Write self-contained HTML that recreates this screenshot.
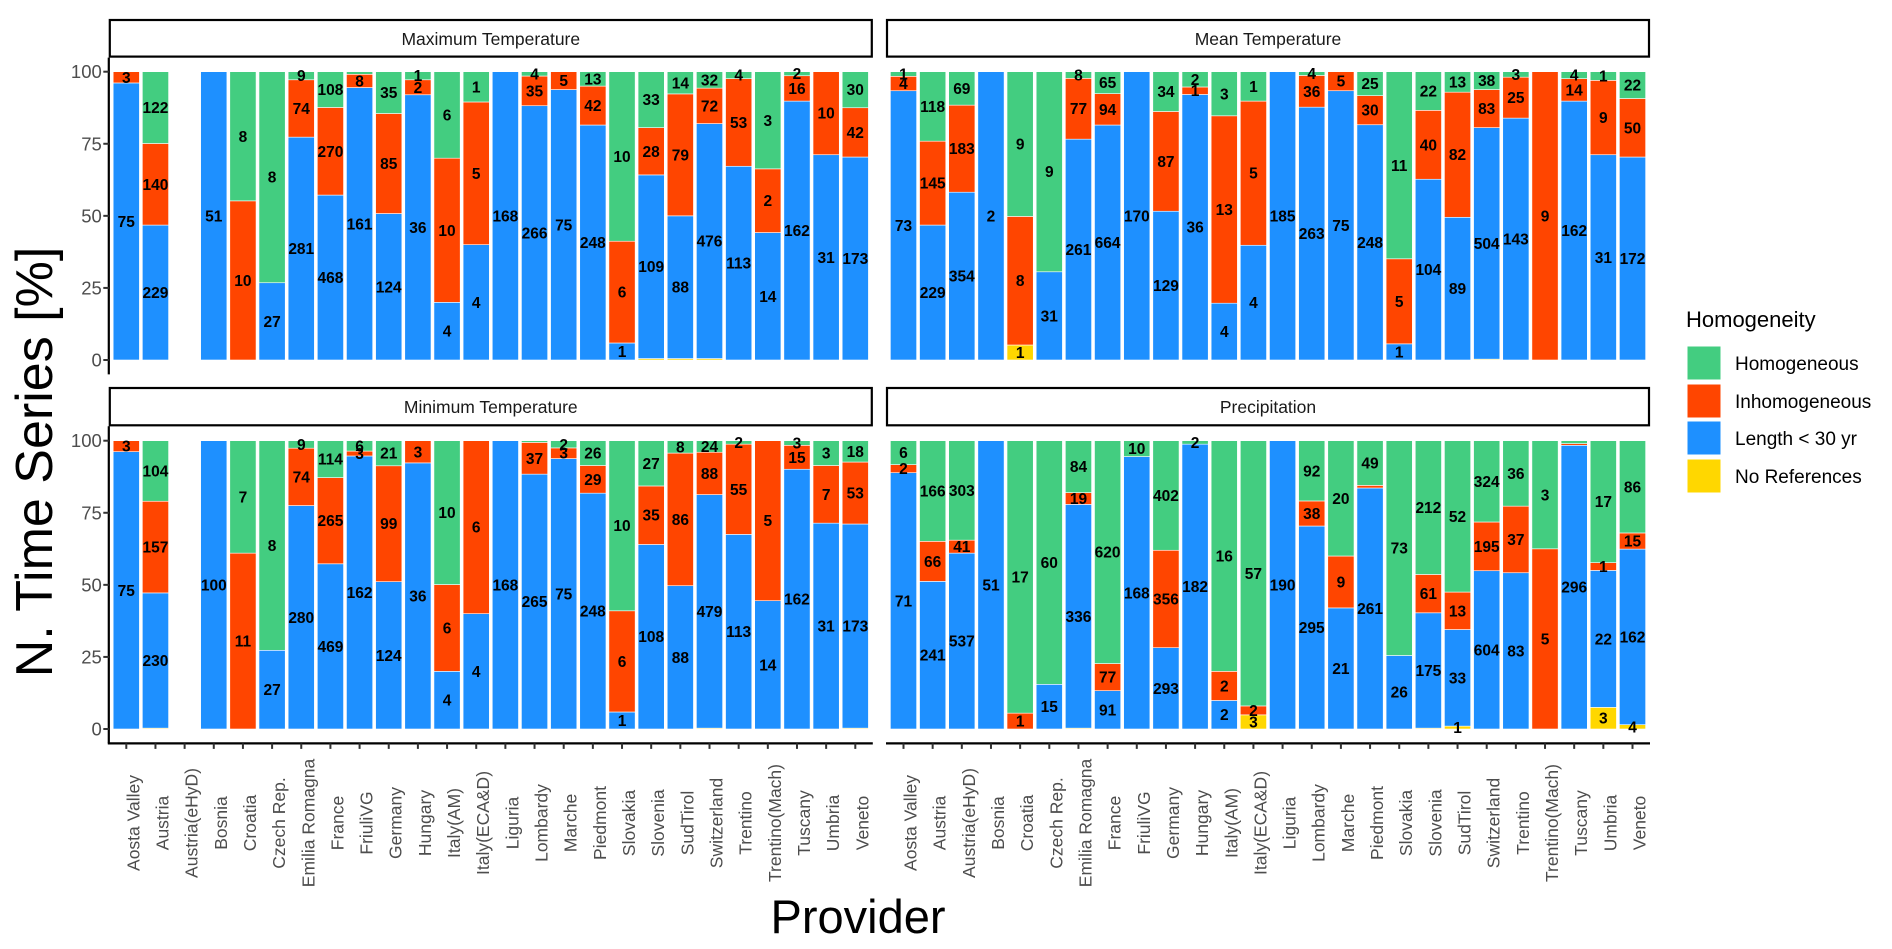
<!DOCTYPE html>
<html>
<head>
<meta charset="utf-8">
<style>
  html,body{margin:0;padding:0;background:#fff;}
  svg{display:block;font-family:"Liberation Sans",Arial,sans-serif;}
</style>
</head>
<body>
<svg id="chart" width="1892" height="949" viewBox="0 0 1892 949" xmlns="http://www.w3.org/2000/svg">
  <rect x="0" y="0" width="1892" height="949" fill="#fff"/>
  <text transform="translate(52,462) rotate(-90)" text-anchor="middle" font-size="52" fill="#000">N. Time Series [%]</text>
  <text x="858" y="933" text-anchor="middle" font-size="47" fill="#000">Provider</text>
  <g>
    <text x="1686" y="327" font-size="22" fill="#000">Homogeneity</text>
    <rect x="1687" y="346" width="34" height="34" fill="#43CD80" stroke="#fff" stroke-width="1"/>
    <text x="1735" y="370" font-size="19" fill="#000">Homogeneous</text>
    <rect x="1687" y="384" width="34" height="34" fill="#FF4500" stroke="#fff" stroke-width="1"/>
    <text x="1735" y="408" font-size="19" fill="#000">Inhomogeneous</text>
    <rect x="1687" y="421" width="34" height="34" fill="#1E90FF" stroke="#fff" stroke-width="1"/>
    <text x="1735" y="445" font-size="19" fill="#000">Length &lt; 30 yr</text>
    <rect x="1687" y="459" width="34" height="34" fill="#FFD700" stroke="#fff" stroke-width="1"/>
    <text x="1735" y="483" font-size="19" fill="#000">No References</text>
  </g>
</svg>
<script>
const categories = ["Aosta Valley","Austria","Austria(eHyD)","Bosnia","Croatia","Czech Rep.","Emilia Romagna","France","FriuliVG","Germany","Hungary","Italy(AM)","Italy(ECA&D)","Liguria","Lombardy","Marche","Piedmont","Slovakia","Slovenia","SudTirol","Switzerland","Trentino","Trentino(Mach)","Tuscany","Umbria","Veneto"];
const yTicks = [0,25,50,75,100];
const panelTitles = ["Maximum Temperature","Mean Temperature","Minimum Temperature","Precipitation"];

const maxYellow = [0,0,0,0,0,0,0,0,0,0,0,0,0,0,0,0,0,0,0.5,0.5,0.5,0,0,0,0,0];
const maxBlue = [96.1,46.8,0,100,0,26.8,77.3,57.2,94.5,50.8,92,20,40,100,88.2,93.8,81.5,5.9,63.7,49.5,81.5,67.2,44.2,89.8,71.2,70.4];
const maxRed = [3.9,28.3,0,0,55.2,0,19.9,30.4,4.6,34.7,5.2,50,49.5,0,10.3,6.2,13.5,35.3,16.4,42.3,12.3,30.4,22.1,8.8,28.8,17.1];
const maxGreen = [0,24.9,0,0,44.8,73.2,2.8,12.4,0.9,14.5,2.8,30,10.5,0,1.5,0,5,58.8,19.4,7.7,5.7,2.4,33.7,1.4,0,12.5];
const maxYellowLab = [null,null,null,null,null,null,null,null,null,null,null,null,null,null,null,null,null,null,null,null,null,null,null,null,null,null];
const maxBlueLab = [75,229,null,51,null,27,281,468,161,124,36,4,4,168,266,75,248,1,109,88,476,113,14,162,31,173];
const maxRedLab = [3,140,null,null,10,null,74,270,8,85,2,10,5,null,35,5,42,6,28,79,72,53,2,16,10,42];
const maxGreenLab = [null,122,null,null,8,8,9,108,null,35,1,6,1,null,4,null,13,10,33,14,32,4,3,2,null,30];

const meanYellow = [0,0,0,0,5.2,0,0,0,0,0,0,0,0,0,0,0,0,0,0,0,0.3,0,0,0,0,0];
const meanBlue = [93.4,46.8,58.2,100,0,30.6,76.6,81.5,100,51.6,92.1,19.7,39.8,100,87.7,93.4,81.6,5.6,62.7,49.5,80.3,83.9,0,89.8,71.2,70.4];
const meanRed = [5.0,29.1,30.2,0,44.6,0,21.1,10.9,0,34.6,2.6,65,50,0,11,6.6,10.1,29.5,23.9,43.4,13.2,14.2,100,7.8,25.8,20.3];
const meanGreen = [1.6,24.1,11.6,0,50.2,69.4,2.3,7.6,0,13.8,5.3,15.3,10.2,0,1.3,0,8.3,64.9,13.4,7.1,6.2,1.9,0,2.4,3,9.3];
const meanYellowLab = [null,null,null,null,1,null,null,null,null,null,null,null,null,null,null,null,null,null,null,null,null,null,null,null,null,null];
const meanBlueLab = [73,229,354,2,null,31,261,664,170,129,36,4,4,185,263,75,248,1,104,89,504,143,null,162,31,172];
const meanRedLab = [4,145,183,null,8,null,77,94,null,87,1,13,5,null,36,5,30,5,40,82,83,25,9,14,9,50];
const meanGreenLab = [1,118,69,null,9,9,8,65,null,34,2,3,1,null,4,null,25,11,22,13,38,3,null,4,1,22];

const minYellow = [0,0.3,0,0,0,0,0,0,0,0,0,0,0,0,0,0,0,0,0,0,0.3,0,0,0,0,0.3];
const minBlue = [96.2,46.9,0,100,0,27.3,77.5,57.3,94.7,51.1,92.3,20,40,100,88.4,93.8,81.8,5.9,64,49.7,81,67.5,44.5,90.1,71.4,70.8];
const minRed = [3.8,31.8,0,0,61,0,19.9,29.9,1.7,40.2,7.7,30.1,60,0,11,3.7,9.6,35.1,20.3,46,14.7,31.3,55.5,8.3,20,21.5];
const minGreen = [0,21,0,0,39,72.7,2.6,12.8,3.6,8.7,0,49.9,0,0,0.6,2.5,8.6,59,15.7,4.3,4,1.2,0,1.6,8.6,7.4];
const minYellowLab = [null,null,null,null,null,null,null,null,null,null,null,null,null,null,null,null,null,null,null,null,null,null,null,null,null,null];
const minBlueLab = [75,230,null,100,null,27,280,469,162,124,36,4,4,168,265,75,248,1,108,88,479,113,14,162,31,173];
const minRedLab = [3,157,null,null,11,null,74,265,3,99,3,6,6,null,37,3,29,6,35,86,88,55,5,15,7,53];
const minGreenLab = [null,104,null,null,7,8,9,114,6,21,null,10,null,null,null,2,26,10,27,8,24,2,null,3,3,18];

const precYellow = [0,0,0,0,0,0,0.3,0,0,0,0,0,4.9,0,0,0,0,0,0.3,1.0,0,0,0,0,7.5,1.5];
const precBlue = [88.9,51.2,61,100,0,15.5,77.6,13.3,94.5,28.2,98.8,9.9,0,100,70.4,42,83.6,25.5,40,33.5,54.9,54.2,0,98.4,47.5,60.9];
const precRed = [2.8,13.9,4.5,0,5.5,0,4.1,9.4,0,33.8,0,10.1,3.1,0,8.7,18,0.9,0,13.3,13,16.9,23.1,62.5,0.6,2.7,5.6];
const precGreen = [8.3,34.9,34.5,0,94.5,84.5,18,77.3,5.5,38,1.2,80,92,0,20.9,40,15.5,74.5,46.4,52.5,28.2,22.7,37.5,1,42.3,32];
const precYellowLab = [null,null,null,null,null,null,null,null,null,null,null,null,3,null,null,null,null,null,null,1,null,null,null,null,3,4];
const precBlueLab = [71,241,537,51,null,15,336,91,168,293,182,2,null,190,295,21,261,26,175,33,604,83,null,296,22,162];
const precRedLab = [2,66,41,null,1,null,19,77,null,356,null,2,2,null,38,9,null,null,61,13,195,37,5,null,1,15];
const precGreenLab = [6,166,303,null,17,60,84,620,10,402,2,16,57,null,92,20,49,73,212,52,324,36,3,null,17,86];

const NS = "http://www.w3.org/2000/svg";
const svg = document.getElementById("chart");
const COLORS = {yellow:"#FFD700", blue:"#1E90FF", red:"#FF4500", green:"#43CD80"};

const panels = [
  {title:panelTitles[0], x0:108.8, y0:360, top:57.6, bottom:374.4, stripTop:20, leftAxis:true, bottomAxis:false,
   series:[["yellow",maxYellow,maxYellowLab],["blue",maxBlue,maxBlueLab],["red",maxRed,maxRedLab],["green",maxGreen,maxGreenLab]]},
  {title:panelTitles[1], x0:886, y0:360, top:57.6, bottom:374.4, stripTop:20, leftAxis:false, bottomAxis:false,
   series:[["yellow",meanYellow,meanYellowLab],["blue",meanBlue,meanBlueLab],["red",meanRed,meanRedLab],["green",meanGreen,meanGreenLab]]},
  {title:panelTitles[2], x0:108.8, y0:729, top:426.3, bottom:743.4, stripTop:388, leftAxis:true, bottomAxis:true,
   series:[["yellow",minYellow,minYellowLab],["blue",minBlue,minBlueLab],["red",minRed,minRedLab],["green",minGreen,minGreenLab]]},
  {title:panelTitles[3], x0:886, y0:729, top:426.3, bottom:743.4, stripTop:388, leftAxis:false, bottomAxis:true,
   series:[["yellow",precYellow,precYellowLab],["blue",precBlue,precBlueLab],["red",precRed,precRedLab],["green",precGreen,precGreenLab]]}
];
const PANEL_W = 764;
const STEP = PANEL_W / (categories.length + 0.2);
const BAR_W = STEP * 0.9;
const PX_PER_UNIT = 2.883;

function el(tag, attrs, parent){
  const e = document.createElementNS(NS, tag);
  for (const k in attrs) e.setAttribute(k, attrs[k]);
  (parent||svg).appendChild(e);
  return e;
}

panels.forEach((p, pi) => {
  const xScale = i => p.x0 + (0.6 + i) * STEP;
  const yScale = v => p.y0 - v * PX_PER_UNIT;
  const g = el("g", {});
  
  

  const strip = el("rect", {x:p.x0+1, y:p.stripTop, width:PANEL_W-2, height:p.top-p.stripTop-1, fill:"#fff", stroke:"#000", "stroke-width":2.2}, g);
  
  
  const st = el("text", {x:p.x0+PANEL_W/2, y:p.stripTop+(p.top-p.stripTop)/2+6, "text-anchor":"middle", "font-size":17.5, fill:"#1a1a1a"}, g);
  st.textContent = p.title;
  
  

  const labels = [];
  categories.forEach((cat, i) => {
    let cum = 0;
    p.series.forEach(([key, vals, labs]) => {
      const v = vals[i];
      if (v > 0) {
        const yTop = yScale(cum + v), yBot = yScale(cum);
        const r = el("rect", {x:xScale(i)-BAR_W/2, y:yTop, width:BAR_W, height:yBot-yTop, fill:COLORS[key], stroke:"#fff", "stroke-width":0.6}, g);
        
        
        if (labs[i] !== null && labs[i] !== undefined) {
          labels.push({x:xScale(i), y:yScale(cum + v/2), t:labs[i]});
        }
      }
      cum += v;
    });
  });
  labels.forEach(l => {
    const t = el("text", {x:l.x, y:l.y+5.5, "text-anchor":"middle", "font-size":15.5, "font-weight":"bold", fill:"#000"}, g);
    t.textContent = l.t;
    
    
  });

  if (p.leftAxis) {
    const ax = el("line", {x1:p.x0, y1:p.top, x2:p.x0, y2:p.bottom, stroke:"#000", "stroke-width":2.2}, g);
    
    
    yTicks.forEach(tv => {
      const tk = el("line", {x1:p.x0-5.5, y1:yScale(tv), x2:p.x0, y2:yScale(tv), stroke:"#333", "stroke-width":2}, g);
      
      
      const tl = el("text", {x:p.x0-7, y:yScale(tv)+6.5, "text-anchor":"end", "font-size":18.5, fill:"#4d4d4d"}, g);
      tl.textContent = tv;
      
      
    });
  }
  if (p.bottomAxis) {
    const ax = el("line", {x1:p.x0 - (p.leftAxis?1:0), y1:p.bottom, x2:p.x0+PANEL_W, y2:p.bottom, stroke:"#000", "stroke-width":2.2}, g);
    
    
    categories.forEach((cat, i) => {
      const tk = el("line", {x1:xScale(i), y1:p.bottom, x2:xScale(i), y2:p.bottom+5.5, stroke:"#333", "stroke-width":2}, g);
      
      
      const tl = el("text", {transform:"translate(" + (xScale(i)+13) + ",823) rotate(-90)", "text-anchor":"middle", "font-size":17.5, fill:"#4d4d4d"}, g);
      tl.textContent = cat;
      
      
    });
  }
});
</script>
</body>
</html>
